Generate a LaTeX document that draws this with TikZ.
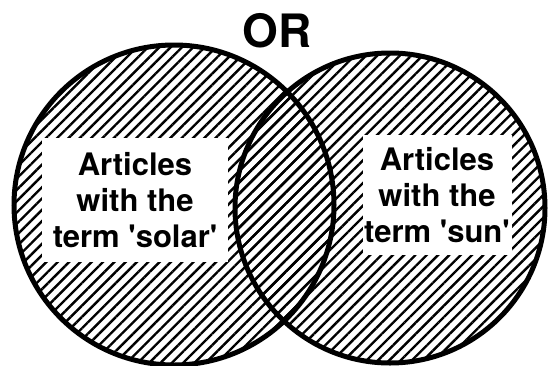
\documentclass[tikz,border=0pt]{standalone}
\usepackage{fontspec}
\setmainfont{TeX Gyre Heros}
\usepackage{tikz}
\usetikzlibrary{patterns.meta}

\begin{document}
\begin{tikzpicture}[
  x=1pt, y=-1pt,
  termset/.style={circle, draw=black, line width=5pt, inner sep=0pt,
                  pattern={Lines[angle=45, distance=8pt, line width=2.4pt]}},
  termbox/.style={rectangle, fill=white, inner sep=0pt, align=center,
                  font=\fontsize{31}{36}\selectfont\bfseries},
  optitle/.style={anchor=base, inner sep=0pt,
                  font=\fontsize{46}{50}\selectfont\bfseries},
]
\useasboundingbox (0,0) rectangle (549,365);

% Sets
\node[termset, minimum size=320pt] (solar) at (174,205) {};
\node[termset, minimum size=310pt] (sun) at (390,208) {};

% Labels
\node[termbox, minimum width=186pt, minimum height=124pt] (solartxt) at (135,200)
  {Articles\\with the\\term \textquotesingle solar\textquotesingle};
\node[termbox, minimum width=149pt, minimum height=120pt] (suntxt) at (437,195)
  {Articles\\with the\\term \textquotesingle sun\textquotesingle};

% Operator
\node[optitle] (op) at (277,47) {OR};
\end{tikzpicture}
\end{document}
